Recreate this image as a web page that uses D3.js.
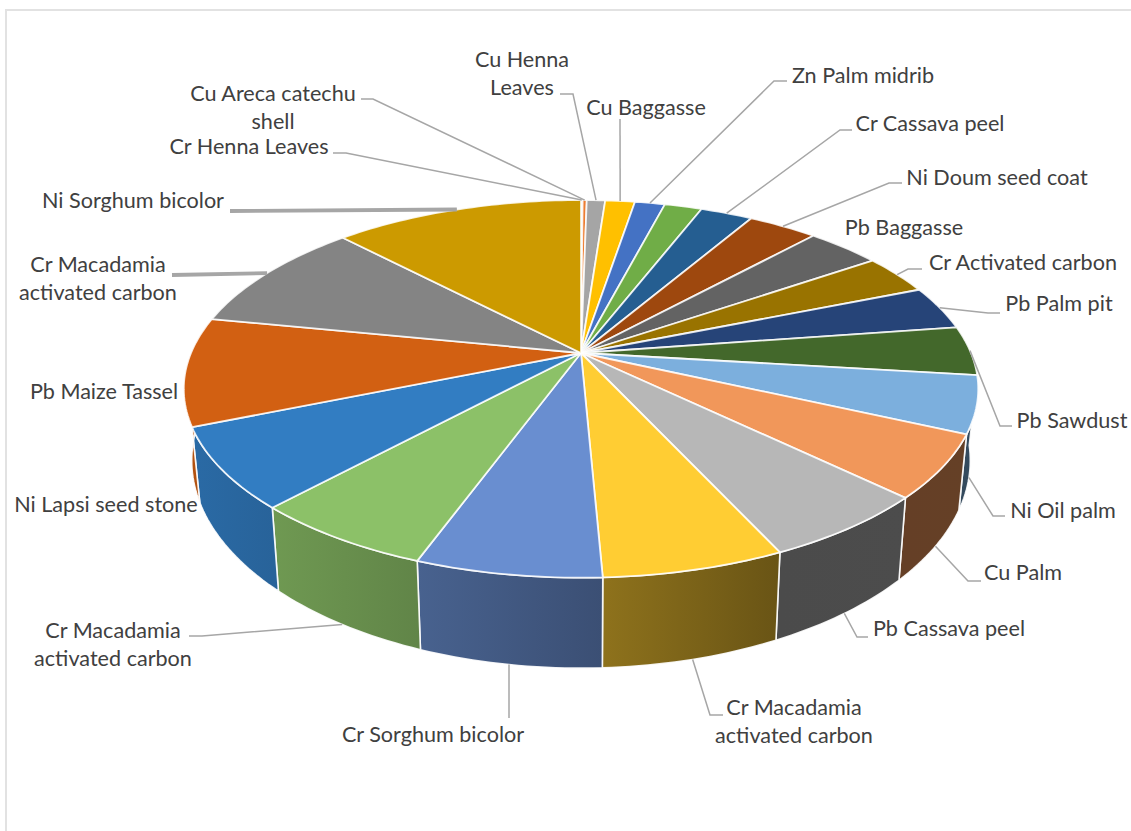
<!DOCTYPE html>
<html>
<head>
<meta charset="utf-8">
<style>
  html, body { margin: 0; padding: 0; background: #fff; }
  svg { display: block; }
  text { font-family: Lato, "Open Sans", sans-serif; font-size: 21.6px; fill: #404040; }
</style>
<script src="https://cdnjs.cloudflare.com/ajax/libs/d3/7.8.5/d3.min.js"></script>
</head>
<body>
<svg id="chart" width="1131" height="831"></svg>
<script>
// Slice categories, clockwise from twelve o'clock; an empty string is an unlabelled slice.
const categories = [
  "Cr Henna Leaves", "Cu Areca catechu\nshell", "Cu Henna\nLeaves", "Cu Baggasse",
  "Zn Palm midrib", "", "Cr Cassava peel", "Ni Doum seed coat", "Pb Baggasse",
  "Cr Activated carbon", "Pb Palm pit", "Pb Sawdust", "Ni Oil palm", "Cu Palm",
  "Pb Cassava peel", "Cr Macadamia\nactivated carbon", "Cr Sorghum bicolor",
  "Cr Macadamia\nactivated carbon", "Ni Lapsi seed stone", "Pb Maize Tassel",
  "Cr Macadamia\nactivated carbon", "Ni Sorghum bicolor"
];

// Share of the pie for each slice, in percent.
const values = [
  0.08, 0.2, 0.9, 1.45, 1.47, 1.83, 2.56, 3.39, 3.64, 3.42, 3.75,
  4.22, 4.86, 5.39, 5.92, 6.22, 6.33, 6.33, 6.89, 9.28, 9.69, 12.22
];

const colors = [
  "#5B9BD5", "#ED7D31", "#A5A5A5", "#FFC000", "#4472C4", "#70AD47", "#255E91",
  "#9E480E", "#636363", "#997300", "#264478", "#43682B", "#7CAFDD", "#F1975A",
  "#B7B7B7", "#FFCD33", "#698ED0", "#8CC168", "#327DC2", "#D26012", "#848484", "#CC9A00"
];

// Label placement: centre x and first baseline, in slice order.
const labelX = [249, 273, 522, 646, 863, 0, 930, 997, 904, 1023, 1059, 1072, 1063, 1023, 949, 794, 433, 113, 106, 104, 98, 133];
const labelY = [154, 101, 67, 115, 83, 0, 131, 185, 235, 270, 311, 428, 518, 580, 636, 715, 742, 638, 512, 399, 272, 208];

// Leader lines: the label-side end and the elbow; null where a label has none.
const leaderEnds = [
  [[333,153],[346,153]], [[361,99],[373,99]], [[560,94],[573,94]], [[620,119],[620,119]],
  [[787,81],[774,81]], null, [[852,130],[840,130]], [[902,183],[889,183]], null,
  [[922,269],[908,269]], [[1000,313],[988,313]], [[1012,426],[1000,426]],
  [[1005,516],[993,516]], [[981,581],[968,581]], [[868,637],[857,637]],
  [[723,715],[710,715]], [[509,718],[509,718]], [[189,636],[202,636]],
  null, null, [[172,275],[172,275]], [[230,211],[230,211]]
];
const heavyLeaders = [20, 21];

// Perspective of the disc: the apex sits above the centre of the drawn ellipse.
const cx = 581, cy = 353, radiusX = 390, radiusY = 182, tilt = 0.19;
const drop = 68, lowerScaleX = 0.98, lowerScaleY = 1.1;
const sideFrom = 95 * Math.PI / 180, sideTo = 278 * Math.PI / 180;

function project(angle, lower) {
  const x = Math.sin(angle), y = Math.cos(angle), w = 1 + tilt * y;
  const sx = radiusX * x / w, sy = radiusY * y / w;
  return lower
    ? [cx + sx * lowerScaleX, cy - sy * lowerScaleY + drop]
    : [cx + sx, cy - sy];
}

function rim(a0, a1, lower) {
  const n = Math.max(2, Math.ceil((a1 - a0) / 0.02));
  return d3.range(n + 1).map(i => project(a0 + (a1 - a0) * i / n, lower));
}

const arcs = d3.pie().sort(null).value(d => d)(values);
const svg = d3.select("#chart");
const line = d3.line();
const defs = svg.append("defs");

// Frame of the chart area: only its top and left edges fall inside the page.
svg.append("rect")
  .attr("x", 6).attr("y", 10).attr("width", 1300).attr("height", 1000)
  .attr("fill", "none").attr("stroke", "#e2e2e2").attr("stroke-width", 2);

// Shade of the wall falls off from left to right.
const wallShade = d3.scaleLinear().domain([190, 600, 780, 950]).range([0.85, 0.56, 0.41, 0.42]);
const shaded = (color, x) => {
  const c = d3.rgb(color), k = wallShade(x);
  return d3.rgb(c.r * k, c.g * k, c.b * k).formatHex();
};

// Outer walls of the disc.
const walls = arcs
  .map((a, i) => ({ i, a0: Math.max(a.startAngle, sideFrom), a1: Math.min(a.endAngle, sideTo) }))
  .filter(d => d.a1 > d.a0);

walls.forEach(d => {
  const top = rim(d.a0, d.a1, false), bottom = rim(d.a0, d.a1, true);
  const x0 = top[0][0], x1 = top[top.length - 1][0];
  const grad = defs.append("linearGradient")
    .attr("id", "wall" + d.i)
    .attr("gradientUnits", "userSpaceOnUse")
    .attr("x1", x0).attr("x2", x1).attr("y1", 0).attr("y2", 0);
  grad.append("stop").attr("offset", 0).attr("stop-color", shaded(colors[d.i], x0));
  grad.append("stop").attr("offset", 1).attr("stop-color", shaded(colors[d.i], x1));
  svg.append("path")
    .attr("d", line(top.concat(bottom.reverse())) + "Z")
    .attr("fill", `url(#wall${d.i})`)
    .attr("stroke", "#fff").attr("stroke-opacity", 0.9)
    .attr("stroke-width", 1.6).attr("stroke-linejoin", "round");
});

// Top face of each slice.
svg.append("g").selectAll("path")
  .data(arcs)
  .join("path")
  .attr("d", a => line([[cx, cy]].concat(rim(a.startAngle, a.endAngle, false))) + "Z")
  .attr("fill", (a, i) => colors[i])
  .attr("stroke", "#fff").attr("stroke-opacity", 0.85)
  .attr("stroke-width", 1.8).attr("stroke-linejoin", "round");

// Leader lines run to the middle of each slice's visible outer edge.
arcs.forEach((a, i) => {
  if (!leaderEnds[i]) return;
  const mid = (a.startAngle + a.endAngle) / 2;
  const near = mid > Math.PI / 2 && mid < 1.5 * Math.PI;
  const points = leaderEnds[i].concat([project(mid, near)]);
  svg.append("path")
    .attr("d", line(points))
    .attr("fill", "none")
    .attr("stroke", "#a6a6a6")
    .attr("stroke-width", heavyLeaders.includes(i) ? 3.8 : 1.5);
});

// Labels, centred line by line.
categories.forEach((name, i) => {
  if (!name) return;
  const t = svg.append("text").attr("text-anchor", "middle");
  name.split("\n").forEach((part, k) => {
    t.append("tspan").attr("x", labelX[i]).attr("y", labelY[i] + k * 27.5).text(part);
  });
});
</script>
</body>
</html>
